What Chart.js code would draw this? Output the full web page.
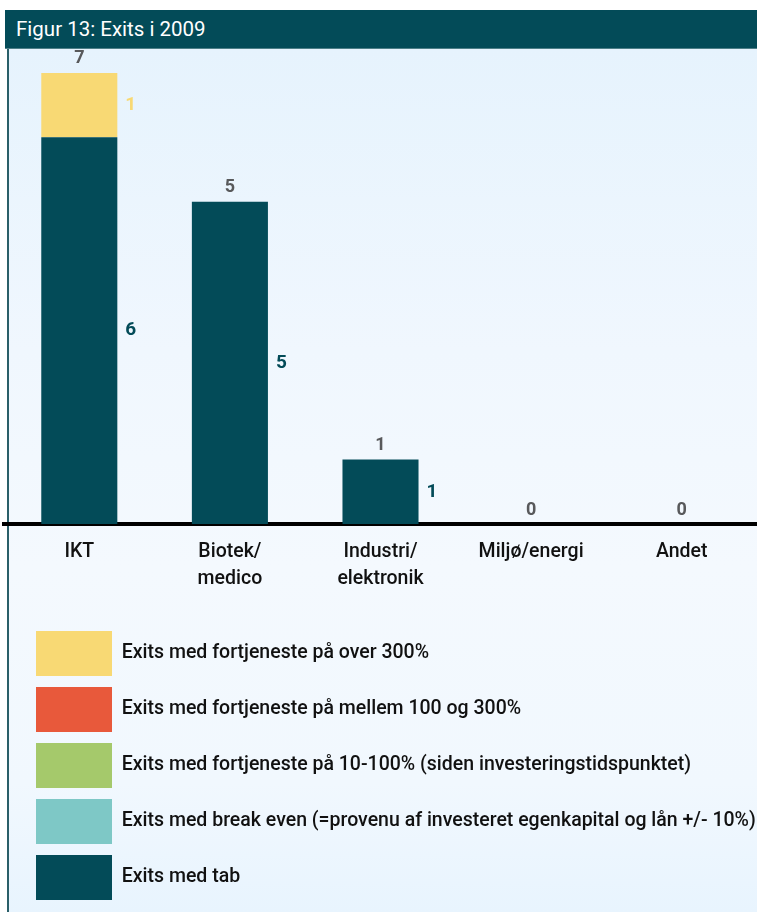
<!DOCTYPE html>
<html>
<head>
<meta charset="utf-8">
<script src="https://cdn.jsdelivr.net/npm/chart.js@4.4.0/dist/chart.umd.min.js"></script>
<style>
  html, body { margin: 0; padding: 0; background: #ffffff; }
  body { width: 757px; height: 912px; position: relative; overflow: hidden; font-family: Roboto, "Noto Sans", sans-serif; }
  #header { position: absolute; left: 5px; top: 10px; width: 760px; height: 39px; background: #034b58; color: #ffffff; font-size: 20.5px; line-height: 39px; padding-left: 11px; box-sizing: border-box; border-bottom: 1px solid #4d7f88; }
  #panel { position: absolute; left: 7px; top: 49px; width: 760px; height: 863px; background: linear-gradient(to bottom, #e6f3fd 0%, #f0f7fe 35%, #f4f9fe 60%, #f1f8fe 85%, #e8f4fe 100%); border-left: 2px solid #2a5f69; box-sizing: border-box; }
  #wrap { position: absolute; left: 0; top: 49px; width: 757px; height: 863px; }
</style>
</head>
<body>
<div id="header">Figur 13: Exits i 2009</div>
<div id="panel"></div>
<div id="wrap"><canvas id="c" width="757" height="863"></canvas></div>
<script>
const categories = [['IKT'], ['Biotek/', 'medico'], ['Industri/', 'elektronik'], ['Miljø/energi'], ['Andet']];
const seriesNames = [
  'Exits med tab',
  'Exits med break even (=provenu af investeret egenkapital og lån +/- 10%)',
  'Exits med fortjeneste på 10-100% (siden investeringstidspunktet)',
  'Exits med fortjeneste på mellem 100 og 300%',
  'Exits med fortjeneste på over 300%'
];
const exitsTab = [6, 5, 1, 0, 0];
const exitsBreakEven = [0, 0, 0, 0, 0];
const exits10to100 = [0, 0, 0, 0, 0];
const exits100to300 = [0, 0, 0, 0, 0];
const exitsOver300 = [1, 0, 0, 0, 0];
const seriesColors = ['#034b58', '#7ec8c6', '#a5c96b', '#e8593b', '#f8d974'];
const seriesValues = [exitsTab, exitsBreakEven, exits10to100, exits100to300, exitsOver300];

const FONT = 'Roboto, "Noto Sans", sans-serif';

const labelPlugin = {
  id: 'valueLabels',
  beforeDraw(chart) {
    if (chart.legend) { chart.legend.left = 25; }
  },
  afterDatasetsDraw(chart) {
    const ctx = chart.ctx;
    const yScale = chart.scales.y;
    ctx.save();
    chart.data.datasets.forEach((ds, di) => {
      const meta = chart.getDatasetMeta(di);
      meta.data.forEach((bar, i) => {
        const v = ds.data[i];
        if (!v) return;
        const props = bar.getProps(['x', 'y', 'base', 'width'], true);
        ctx.font = 'bold 19px ' + FONT;
        ctx.fillStyle = ds.backgroundColor;
        ctx.textAlign = 'left';
        ctx.textBaseline = 'middle';
        ctx.fillText(String(v), props.x + props.width / 2 + 8, (props.y + props.base) / 2);
      });
    });
    const meta0 = chart.getDatasetMeta(0);
    categories.forEach((c, i) => {
      let total = 0;
      chart.data.datasets.forEach(ds => { total += ds.data[i]; });
      const x = meta0.data[i].x;
      const y = yScale.getPixelForValue(total);
      ctx.font = 'bold 18px ' + FONT;
      ctx.fillStyle = '#58595b';
      ctx.textAlign = 'center';
      ctx.textBaseline = 'middle';
      ctx.fillText(String(total), x, y - 14);
    });
    ctx.restore();
  }
};

new Chart(document.getElementById('c'), {
  type: 'bar',
  data: {
    labels: categories,
    datasets: seriesNames.map((n, k) => ({
      label: n,
      data: seriesValues[k],
      backgroundColor: seriesColors[k],
      borderWidth: 0,
      barPercentage: 1,
      categoryPercentage: 0.505
    }))
  },
  options: {
    responsive: false,
    animation: false,
    layout: { padding: { left: 4, right: 0, top: 11, bottom: 2 } },
    scales: {
      x: {
        stacked: true,
        grid: { display: false, drawTicks: false },
        border: { display: true, color: '#000000', width: 4 },
        ticks: { color: '#111111', font: { family: FONT, size: 19.5, weight: '500', lineHeight: 1.38 }, padding: 15, maxRotation: 0, autoSkip: false },
        afterFit(scale) { scale.height = 96; }
      },
      y: {
        stacked: true,
        display: false,
        min: 0,
        max: 7.2
      }
    },
    plugins: {
      tooltip: { enabled: false },
      legend: {
        position: 'bottom',
        align: 'start',
        reverse: true,
        labels: {
          boxWidth: 76,
          boxHeight: 45,
          padding: 11,
          color: '#111111',
          font: { family: FONT, size: 19.5, weight: '500' }
        }
      }
    }
  },
  plugins: [labelPlugin]
});
</script>
</body>
</html>
